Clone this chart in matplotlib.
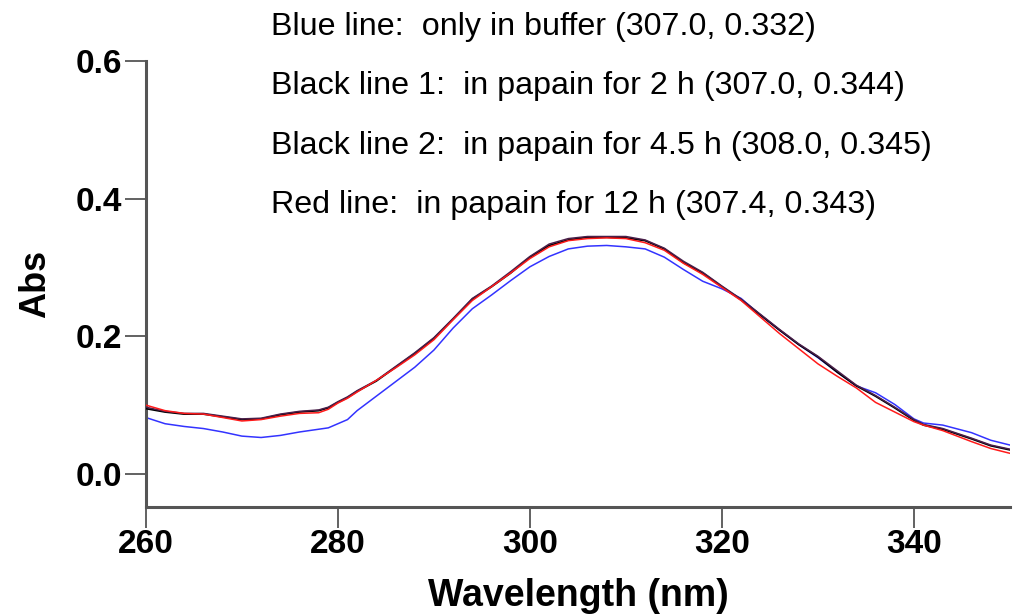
import matplotlib
matplotlib.use("Agg")
import matplotlib.pyplot as plt

plt.rcParams["font.family"] = ["Liberation Sans", "DejaVu Sans"]

# wavelength grid (nm)
wavelength = [260, 262, 264, 266, 268, 270, 272, 274, 276, 278, 279, 280, 281,
              282, 284, 286, 288, 290, 292, 294, 296, 298, 300, 302, 304, 306,
              308, 310, 312, 314, 316, 318, 320, 322, 324, 326, 328, 330, 332,
              334, 336, 338, 340, 341, 343, 346, 348, 350]

abs_buffer = [0.082, 0.073, 0.069, 0.066, 0.061, 0.055, 0.053, 0.056, 0.061,
              0.065, 0.067, 0.073, 0.079, 0.092, 0.113, 0.134, 0.155, 0.180,
              0.212, 0.240, 0.260, 0.281, 0.301, 0.316, 0.327, 0.331, 0.332,
              0.330, 0.327, 0.315, 0.297, 0.280, 0.269, 0.255, 0.231, 0.209,
              0.188, 0.169, 0.148, 0.128, 0.118, 0.101, 0.080, 0.074, 0.071,
              0.060, 0.049, 0.042]

abs_2h = [0.095, 0.090, 0.087, 0.087, 0.083, 0.079, 0.080, 0.086, 0.090,
          0.092, 0.096, 0.104, 0.111, 0.120, 0.135, 0.155, 0.175, 0.197,
          0.225, 0.254, 0.272, 0.292, 0.315, 0.332, 0.340, 0.344, 0.344,
          0.343, 0.339, 0.327, 0.307, 0.292, 0.272, 0.253, 0.231, 0.209,
          0.188, 0.170, 0.148, 0.128, 0.113, 0.096, 0.078, 0.071, 0.065,
          0.051, 0.041, 0.035]

abs_4h = [0.097, 0.091, 0.088, 0.088, 0.084, 0.080, 0.081, 0.087, 0.091,
          0.093, 0.097, 0.105, 0.112, 0.121, 0.136, 0.156, 0.176, 0.198,
          0.226, 0.255, 0.273, 0.294, 0.316, 0.334, 0.342, 0.345, 0.345,
          0.345, 0.340, 0.328, 0.309, 0.293, 0.273, 0.254, 0.232, 0.210,
          0.189, 0.171, 0.150, 0.129, 0.114, 0.097, 0.079, 0.072, 0.066,
          0.052, 0.042, 0.036]

abs_12h = [0.100, 0.092, 0.088, 0.087, 0.082, 0.077, 0.079, 0.084, 0.088,
           0.089, 0.094, 0.103, 0.110, 0.119, 0.136, 0.154, 0.173, 0.195,
           0.224, 0.252, 0.272, 0.292, 0.313, 0.330, 0.339, 0.342, 0.343,
           0.342, 0.336, 0.325, 0.306, 0.290, 0.271, 0.252, 0.228, 0.204,
           0.182, 0.160, 0.142, 0.125, 0.104, 0.090, 0.076, 0.071, 0.063,
           0.047, 0.037, 0.030]

notes = [
    "Blue line:  only in buffer (307.0, 0.332)",
    "Black line 1:  in papain for 2 h (307.0, 0.344)",
    "Black line 2:  in papain for 4.5 h (308.0, 0.345)",
    "Red line:  in papain for 12 h (307.4, 0.343)",
]

x_ticks = [260, 280, 300, 320, 340]
y_ticks = [0.0, 0.2, 0.4, 0.6]

SPINE = "#555555"

fig = plt.figure(figsize=(10.13, 6.15), dpi=100, facecolor="white")
ax = fig.add_axes([0.144, 0.1756, 0.853, 0.7252])

ax.plot(wavelength, abs_buffer, color="#3333ff", lw=1.1, zorder=2)
ax.plot(wavelength, abs_2h, color="black", lw=1.3, zorder=3)
ax.plot(wavelength, abs_4h, color="#4a1f4a", lw=1.1, zorder=3)
ax.plot(wavelength, abs_12h, color="#ff1a1a", lw=1.1, zorder=4)

ax.set_xlim(260, 350)
ax.set_ylim(-0.048, 0.6)
ax.set_xticks(x_ticks)
ax.set_yticks(y_ticks)
ax.set_yticklabels([f"{v:.1f}" for v in y_ticks])

for side in ("top", "right"):
    ax.spines[side].set_visible(False)
for side in ("left", "bottom"):
    ax.spines[side].set_color(SPINE)
    ax.spines[side].set_linewidth(2.2)

ax.tick_params(axis="both", direction="out", length=15, width=1.3,
               color=SPINE, labelsize=24)
ax.tick_params(axis="x", pad=1)
ax.tick_params(axis="y", pad=2)
for lab in ax.get_xticklabels() + ax.get_yticklabels():
    lab.set_fontweight("bold")

ax.set_xlabel("Wavelength (nm)", fontsize=27, fontweight="bold", labelpad=13)
ax.set_ylabel("Abs", fontsize=26, fontweight="bold", labelpad=16)

for i, line in enumerate(notes):
    fig.text(0.2675, 0.956 - i * 0.0965, line, fontsize=23.2,
             ha="left", va="center", color="black")

fig.savefig("out.png", dpi=100, facecolor="white")
